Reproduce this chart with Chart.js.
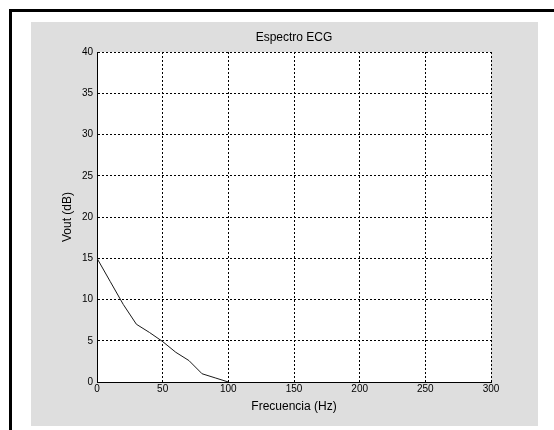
<!DOCTYPE html>
<html>
<head>
<meta charset="utf-8">
<script src="https://cdn.jsdelivr.net/npm/chart.js@4/dist/chart.umd.min.js"></script>
<style>
  html, body { margin: 0; padding: 0; background: #fff; }
  #marco { position: relative; width: 554px; height: 430px; overflow: hidden; }
  #bordeSup { position: absolute; left: 9px; top: 9px; width: 545px; height: 3px; background: #000; }
  #bordeIzq { position: absolute; left: 9px; top: 9px; width: 3px; height: 421px; background: #000; }
  #panel { position: absolute; left: 31px; top: 22px; width: 507px; height: 404px; background: #dedede; }
  #lienzo { position: absolute; left: 0; top: 0; }
</style>
</head>
<body>
<div id="marco">
  <div id="bordeSup"></div>
  <div id="bordeIzq"></div>
  <div id="panel"></div>
  <canvas id="lienzo" width="554" height="430"></canvas>
</div>
<script>
const frecuencias = [0, 10, 20, 30, 40, 50, 60, 70, 80, 90, 100];
const voutDB = [15, 12.2, 9.4, 7, 6, 4.9, 3.6, 2.6, 1, 0.5, 0];
const ticksX = [0, 50, 100, 150, 200, 250, 300];
const ticksY = [0, 5, 10, 15, 20, 25, 30, 35, 40];

const fuente = "'Liberation Sans', Arial, sans-serif";

// fondo blanco solo dentro del area de ejes
const fondoEjes = {
    id: 'fondoEjes',
    beforeDraw(chart) {
        const a = chart.chartArea;
        const ctx = chart.ctx;
        ctx.save();
        ctx.fillStyle = '#ffffff';
        ctx.fillRect(a.left, a.top, a.right - a.left, a.bottom - a.top);
        ctx.restore();
    }
};

new Chart(document.getElementById('lienzo').getContext('2d'), {
    type: 'line',
    data: {
        datasets: [{
            data: frecuencias.map((f, i) => ({ x: f, y: voutDB[i] })),
            xAxisID: 'x',
            borderColor: '#1a1a1a',
            borderWidth: 1,
            pointRadius: 0,
            fill: false,
            tension: 0
        }]
    },
    plugins: [fondoEjes],
    options: {
        responsive: false,
        animation: false,
        layout: { padding: { left: 0, right: 63, top: 0, bottom: 0 } },
        plugins: {
            legend: { display: false },
            tooltip: { enabled: false }
        },
        scales: {
            // eje superior solo para centrar el titulo sobre los ejes
            arriba: {
                type: 'linear',
                position: 'top',
                min: 0, max: 300,
                afterFit: s => { s.height = 52; },
                grid: { display: false, drawTicks: false },
                border: { display: false },
                ticks: { display: false },
                title: {
                    display: true,
                    text: 'Espectro ECG',
                    color: '#000',
                    font: { family: fuente, size: 12 },
                    padding: { top: 30, bottom: 0 }
                }
            },
            x: {
                type: 'linear',
                position: 'bottom',
                min: 0, max: 300,
                afterBuildTicks: s => { s.ticks = ticksX.map(v => ({ value: v })); },
                afterFit: s => { s.height = 48; },
                grid: { color: '#000', lineWidth: 1, drawTicks: false },
                border: { display: true, color: '#000', width: 1, dash: [2, 2] },
                ticks: { color: '#000', padding: 1, maxRotation: 0, font: { family: fuente, size: 10 } },
                title: {
                    display: true,
                    text: 'Frecuencia (Hz)',
                    color: '#000',
                    font: { family: fuente, size: 12 },
                    padding: { top: 0, bottom: 16 }
                }
            },
            y: {
                min: 0, max: 40,
                afterBuildTicks: s => { s.ticks = ticksY.map(v => ({ value: v })); },
                afterFit: s => { s.width = 97; },
                grid: { color: '#000', lineWidth: 1, drawTicks: false },
                border: { display: true, color: '#000', width: 1, dash: [2, 2] },
                ticks: { color: '#000', padding: 4, font: { family: fuente, size: 10 } },
                title: {
                    display: true,
                    text: 'Vout (dB)',
                    color: '#000',
                    font: { family: fuente, size: 12 },
                    padding: { top: 60, bottom: 0 }
                }
            }
        }
    }
});
</script>
</body>
</html>
